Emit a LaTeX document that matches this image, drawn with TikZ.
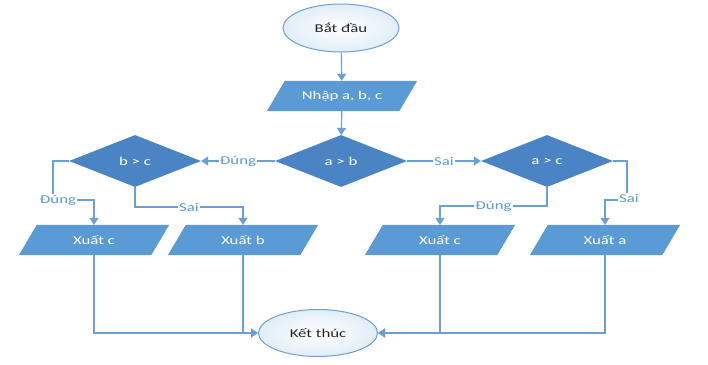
\documentclass[tikz,border=0pt]{standalone}
\usepackage{fontspec}
\setmainfont{Carlito}[FakeStretch=1.4]
\usetikzlibrary{shapes.geometric,arrows.meta,backgrounds}
\definecolor{lineblue}{HTML}{6A9FD8}
\definecolor{parblue}{HTML}{5B9BD5}
\definecolor{diablue}{HTML}{4A84C4}
\definecolor{txtdark}{HTML}{262626}
\begin{document}
\begin{tikzpicture}[x=1pt,y=-1pt,
  every node/.style={font=\fontsize{12}{14}\selectfont},
  term/.style={ellipse, draw=lineblue, line width=1pt, inner color=white, outer color=parblue!18, text=txtdark, inner sep=0pt},
  io/.style={rectangle, text=white, minimum width=132pt, minimum height=30pt, inner sep=0pt},
  dec/.style={diamond, fill=diablue, text=white, minimum width=132pt, minimum height=52pt, inner sep=0pt},
  arr/.style={draw=lineblue, line width=1.2pt, -{Triangle[width=9pt,length=7pt]}},
  lbl/.style={fill=white, text=parblue, inner sep=1pt}
]
\useasboundingbox (0,0) rectangle (708,364);

\node[term, minimum width=116pt, minimum height=48pt] (start) at (341,28) {Bắt đầu};
\node[io] (in) at (342,96) {Nhập a, b, c};
\node[dec] (d1) at (341,161) {a > b};
\node[dec] (d2) at (135,161) {b > c};
\node[dec] (d3) at (547,161) {a > c};
\node[io] (o1) at (94,240) {Xuất c};
\node[io] (o2) at (243,240) {Xuất b};
\node[io] (o3) at (440,240) {Xuất c};
\node[io] (o4) at (605,240) {Xuất a};
\node[term, minimum width=119pt, minimum height=47pt] (end) at (318,333) {Kết thúc};

\begin{scope}[on background layer]
\foreach \n in {in,o1,o2,o3,o4}{
  \fill[parblue] ([xshift=-9pt]\n.south west) -- ([xshift=-9pt]\n.south east)
     -- ([xshift=9pt]\n.north east) -- ([xshift=9pt]\n.north west) -- cycle;
}
\end{scope}

\coordinate (k1) at (53,200);
\coordinate (k2) at (243,207);
\coordinate (k3) at (440,206);
\coordinate (k4) at (627,200);

\draw[arr] (start) -- (in);
\draw[arr] (in) -- (d1);
\draw[arr] (d1.west) -- node[lbl]{Đúng} (d2.east);
\draw[arr] (d1.east) -- node[lbl]{Sai} (d3.west);

\draw[arr] (d2.west) -| (k1) -| (o1.north);
\node[lbl] (l1) at (58,200) {Đúng};
\draw[arr] (d2.south) |- node[lbl,pos=0.75]{Sai} (k2) -- (o2.north);
\draw[arr] (d3.south) |- node[lbl,pos=0.75]{Đúng} (k3) -- (o3.north);
\draw[arr] (d3.east) -| (k4) -| (o4.north);
\node[lbl] (l4) at (629,198) {Sai};

\draw[arr] (o1.south) |- (end.west);
\draw[arr] (o2.south) |- (end.west);
\draw[arr] (o3.south) |- (end.east);
\draw[arr] (o4.south) |- (end.east);
\end{tikzpicture}
\end{document}
